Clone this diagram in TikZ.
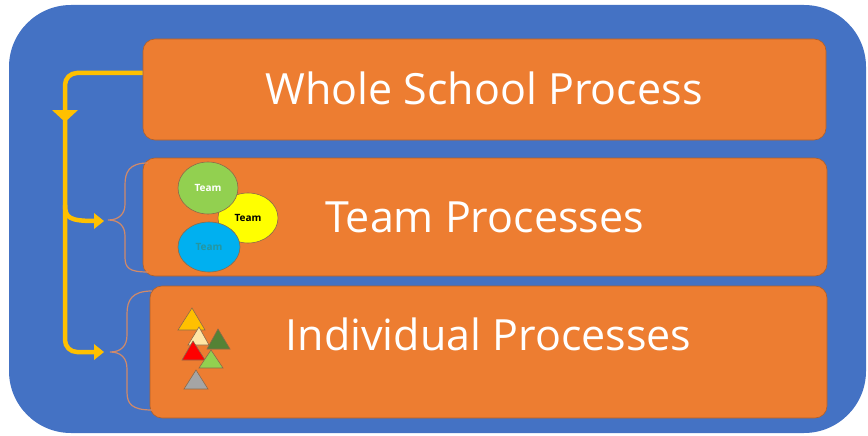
\documentclass[tikz,border=0pt]{standalone}
\usepackage{fontspec}
\setmainfont{Open Sans}
\usetikzlibrary{arrows.meta,shapes.geometric}
\definecolor{panelblue}{HTML}{4472C4}
\definecolor{boxorange}{HTML}{ED7D31}
\definecolor{boxedge}{HTML}{B0602A}
\definecolor{flowgold}{HTML}{FFC000}
\definecolor{bracecol}{HTML}{D08A6A}
\definecolor{teamgreen}{HTML}{92D050}
\definecolor{teamyellow}{HTML}{FFFF00}
\definecolor{teamblue}{HTML}{00B0F0}
\definecolor{teamteal}{HTML}{2596A0}
\definecolor{shapeedge}{HTML}{8C6A4A}
\definecolor{tribeige}{HTML}{FFE6A6}
\definecolor{tridkgreen}{HTML}{548235}
\definecolor{trigray}{HTML}{A5A5A5}
\tikzset{
  layerbox/.style={fill=boxorange, draw=boxedge, line width=0.6pt, rounded corners=12pt, inner sep=0pt},
  layertext/.style={anchor=base, text=white, inner sep=0pt, font=\fontsize{43}{46}\selectfont},
  flow/.style={draw=flowgold, line width=4.5pt, rounded corners=12pt},
  bracket/.style={draw=bracecol, line width=1.2pt},
  teamblob/.style={ellipse, draw=shapeedge, line width=0.6pt, inner sep=0pt,
    font=\fontsize{10}{11}\selectfont\bfseries},
  tri/.style={draw=shapeedge, line width=0.6pt},
}
\begin{document}
\begin{tikzpicture}[x=1pt, y=-1pt]
\useasboundingbox (0,0) rectangle (868,436);
% outer panel
\fill[white] (0,0) rectangle (868,436);
\fill[panelblue, rounded corners=62pt] (9,5) rectangle (866,433);

% the three layers
\node[layerbox, minimum width=683pt, minimum height=101pt] (whole) at (484.5,89.5) {};
\node[layerbox, minimum width=684pt, minimum height=118pt] (team) at (485,217) {};
\node[layerbox, minimum width=677pt, minimum height=132pt] (indiv) at (488.5,352) {};
\node[layertext] (wholetext) at (484,105) {Whole School Process};
\node[layertext] (teamtext) at (484.5,232) {Team Processes};
\node[layertext] (indivtext) at (488.5,350) {Individual Processes};

% team cluster
\node[teamblob, fill=teamyellow, minimum width=60pt, minimum height=50pt, text=black] (ty) at (248,218) {Team};
\node[teamblob, fill=teamgreen, minimum width=60pt, minimum height=52pt, text=white] (tg) at (208,188) {Team};
\node[teamblob, fill=teamblue, minimum width=62pt, minimum height=50pt, text=teamteal] (tb) at (209,247) {Team};

% individual markers
\filldraw[tri, fill=flowgold] (178,330) -- (192,308) -- (205,330) -- cycle;
\filldraw[tri, fill=tribeige] (188,345) -- (199,327) -- (209,345) -- cycle;
\filldraw[tri, fill=tridkgreen] (207,349) -- (218,329) -- (230,349) -- cycle;
\filldraw[tri, fill=red] (182,360) -- (193,341) -- (205,360) -- cycle;
\filldraw[tri, fill=teamgreen] (199,368) -- (211,350) -- (223,368) -- cycle;
\filldraw[tri, fill=trigray] (184,389) -- (196,370) -- (208,389) -- cycle;

% brace tips and flow ends
\coordinate (teamtip) at (108,220);
\coordinate (indivtip) at (110,352);
\coordinate (teamin) at (104,221);
\coordinate (indivin) at (104,352);
\coordinate (spine) at (65,205);

% braces
\draw[bracket] (148,163) .. controls (129,163) and (125,172) .. (125,185) -- (125,204)
  .. controls (125,214) and (119,220) .. (teamtip)
  .. controls (119,220) and (125,226) .. (125,236) -- (125,257)
  .. controls (125,268) and (129,272) .. (148,272);
\draw[bracket] (152,291) .. controls (132,291) and (127,300) .. (127,314) -- (127,335)
  .. controls (127,346) and (121,352) .. (indivtip)
  .. controls (121,352) and (127,358) .. (127,369) -- (127,392)
  .. controls (127,404) and (132,410) .. (152,410);

% flow from the whole-school layer down the spine
\draw[flow] (whole.west |- 0,73) -- (65,73) -- (65,352) -- ([xshift=-9pt]indivin);
\fill[flowgold] ([xshift=-10pt]indivin) ++(0,-8) -- (indivin) -- ++(-10pt,8) -- cycle;
\fill[flowgold] (52,110) -- (78,110) -- (65,122) -- cycle;
\draw[flow, rounded corners=0pt] (spine) .. controls (65,218) and (70,221) .. ([xshift=-9pt]teamin);
\fill[flowgold] ([xshift=-10pt]teamin) ++(0,-8) -- (teamin) -- ++(-10pt,8) -- cycle;
\end{tikzpicture}
\end{document}
